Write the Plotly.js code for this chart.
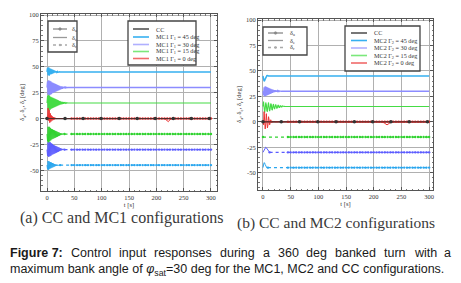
<!DOCTYPE html>
<html><head><meta charset="utf-8">
<script src="https://cdn.plot.ly/plotly-3.0.1.min.js"></script>
<style>html,body{margin:0;padding:0;background:#fff}#c{width:461px;height:283px}</style>
</head><body><div id="c"></div>
<script>
// ---------- DATA ----------
const tTrans = [0,1,2,3,4,5,6,7,8,9,10,11,12,13,14,15,16,17,18,19,20,21,22,23,24,25,26,27,28,29,30,31,32,33,34,35,36,37,38,39,40,41,42,43,44,45];
const tDots = [45,50,55,60,65,70,75,80,85,90,95,100,105,110,115,120,125,130,135,140,145,150,155,160,165,170,175,180,185,190,195,200,205,210,215,220,225,230,235,240,245,250,255,260,265,270,275,280,285,290,295,300];
const xTicks = [0,50,100,150,200,250,300];
const yTicks = [-50,-25,0,25,50,75,100];
const tEnd = 300;
const ccMarkT = [0,33,66,99,132,165,198,231,264,297];

// (a) MC1
const mc1_45p = [45,49,42,49.5,41.5,48.5,42.5,48,43,47.5,43.5,47,44,46.5,44.5,46,44.6,45.6,44.7,45.4,44.8,45.3,44.9,45.2,45];
const mc1_45n = [-45,-49,-41,-49.5,-41.5,-48.5,-42,-48,-42.5,-47.5,-43,-47,-43.5,-46.5,-44,-46,-44.3,-45.7,-44.5,-45.5,-44.7,-45.3,-44.8,-45.2,-45];
const mc1_30p = [30,36,23,37,22,36.5,23,36,23.5,35,24.5,34.5,25,34,25.5,33.5,26,33,26.5,32.5,27,32,27.5,31.5,28,31.2,28.5,31,28.8,30.8,29.2,30.6,29.4,30.4,29.6,30.3,29.8,30.2,30];
const mc1_30n = [-30,-36,-23,-37,-22.5,-36.5,-23,-36,-24,-35,-24.5,-34.5,-25.5,-34,-26,-33.5,-26.5,-33,-27,-32.5,-27.5,-32,-28,-31.5,-28.5,-31,-29,-30.7,-29.3,-30.4,-29.6,-30.2,-30];
const mc1_15p = [15,22,8,23,7,22,8.5,21,9.5,20.5,10,20,10.5,19.5,11,19,11.5,18.5,12,18,12.5,17.5,13,17,13.5,16.5,13.8,16.2,14,16,14.3,15.7,14.5,15.5,14.7,15.3,14.8,15.2,15];
const mc1_15n = [-15,-22,-8,-23,-8,-22,-9,-21,-10,-20,-10.5,-19.5,-11,-19,-11.5,-18.5,-12,-18,-12.5,-17.5,-13,-17,-13.5,-16.5,-14,-16,-14.3,-15.7,-14.5,-15.5,-14.7,-15.3,-15];
const mc1_0 = [0,1,10,-2,8,-4,5,-3,3,-2,2,-1.5,1.5,-1,1,-0.5,0.5,0];
const mc1_0_blipT = [215,219,222,225,229];
const mc1_0_blipV = [0,-1.5,-3,-1,0];

// (b) MC2
const mc2_45p = [45,43,40,40.5,42,43.5,44.5,45.3,45.5,45.2,45];
const mc2_45n = [-45,-43,-40,-40.5,-42,-43.5,-44.5,-45.3,-45.2,-45];
const mc2_30p = [30,26,34,25,35,25.5,34.5,26,34,26.5,33.5,27,33,27.5,32.5,28,32,28.5,31.5,29,31.2,29.2,31,29.4,30.8,29.6,30.6,29.7,30.4,29.8,30.3,29.9,30.2,30];
const mc2_30n = [-30,-29,-27,-25.5,-25,-25,-25.5,-26.5,-27.5,-28.5,-29.3,-29.8,-30];
const mc2_15p = [15,20,14,9,13,19,17,11,10,16,19,14,10.5,13,18,17,12,11.5,16,17.5,14,12.5,15,17,15.5,13,14,16.5,16,14,14,15.8,15.8,14.5,14.5,15.5,15.3,14.7,15,15.2,15];
const mc2_15n = [-15];
const mc2_0 = [0,-3,10,2,-7,-2,8,1,-6,-3,5,2,-3,-1,2,0.5,-1,0,0.5,0];
const mc2_0_blipT = [215,220,224,228,233];
const mc2_0_blipV = [0,-1.5,-3,-1.5,0];

const legLabelsMC1 = ['CC','MC1 Γ<sub>1</sub> = 45 deg','MC1 Γ<sub>1</sub> = 30 deg','MC1 Γ<sub>1</sub> = 15 deg','MC1 Γ<sub>1</sub> = 0 deg'];
const legLabelsMC2 = ['CC','MC2 Γ<sub>2</sub> = 45 deg','MC2 Γ<sub>2</sub> = 30 deg','MC2 Γ<sub>2</sub> = 15 deg','MC2 Γ<sub>2</sub> = 0 deg'];
const inputLabels = ['δ<sub>a</sub>','δ<sub>e</sub>','δ<sub>r</sub>'];

// ---------- STYLE ----------
const C = {cc:'#2a2a2a', c45:'#36b0f0', c30:'#8c8cff', c15:'#45dc45', c0:'#ec3434'};
const CN = {c45:'#2aa6ee', c30:'#5c5cff', c15:'#2fd22f'};
const W = 461, H = 283;
const PX = x => x / W, PY = y => 1 - y / H;
const serif = 'Liberation Serif, Times New Roman, serif';
const sans = 'Liberation Sans, Arial, sans-serif';

// transient part (solid) of a series
function transient(vals){
  return {x: tTrans.slice(0, vals.length), y: vals.slice()};
}
// settled part drawn dotted with small markers
function settled(vals){
  const t0 = tTrans[vals.length-1], last = vals[vals.length-1];
  const x = [t0].concat(tDots.filter(t => t > t0));
  return {x, y: x.map(()=>last), dots:true};
}
function full(vals, tailT, tailV){
  const s = transient(vals);
  const last = vals[vals.length-1];
  if (tailT){ tailT.forEach((t,i)=>{s.x.push(t); s.y.push(tailV[i]);}); }
  s.x.push(tEnd); s.y.push(tailV ? tailV[tailV.length-1] : last);
  return s;
}
function tr(s, color, dash, ax, width){
  const o = {x:s.x, y:s.y, mode: s.dots ? 'lines+markers' : 'lines', type:'scatter', xaxis:'x'+ax, yaxis:'y'+ax,
    line:{color, width: width||1, dash: dash||'solid'}, hoverinfo:'skip', showlegend:false};
  if (s.dots) o.marker = {size:2.4, color, line:{width:0}};
  return o;
}
function build(ax, d){
  const out = [];
  out.push(tr({x:[0,tEnd], y:[0,0]}, C.cc, 'solid', ax, 1.3));
  out.push(tr(full(d.p45), C.c45, 'solid', ax, 1.5));
  if (d.n45.length > 1) out.push(tr(transient(d.n45), CN.c45, 'solid', ax, 1));
  out.push(tr(settled(d.n45), CN.c45, 'dot', ax, 1.2));
  out.push(tr(full(d.p30), C.c30, 'solid', ax, 1.3));
  if (d.n30.length > 1) out.push(tr(transient(d.n30), CN.c30, 'solid', ax, 1));
  out.push(tr(settled(d.n30), CN.c30, 'dot', ax, 1.2));
  out.push(tr(full(d.p15), C.c15, 'solid', ax, 1.1));
  if (d.n15.length > 1) out.push(tr(transient(d.n15), CN.c15, 'solid', ax, 1));
  out.push(tr(settled(d.n15), CN.c15, 'dot', ax, 1.2));
  out.push(tr(full(d.z, d.bt, d.bv), C.c0, 'solid', ax, 1));
  out.push(tr(settled([0]), C.c0, 'dot', ax, 1.1));
  out.push({x:ccMarkT, y:ccMarkT.map(()=>0), mode:'lines+markers', type:'scatter', xaxis:'x'+ax, yaxis:'y'+ax,
    line:{color:C.cc, width:0.8}, marker:{size:3.6, color:'#333'}, hoverinfo:'skip', showlegend:false});
  return out;
}
const data = [].concat(
  build('', {p45:mc1_45p,n45:mc1_45n,p30:mc1_30p,n30:mc1_30n,p15:mc1_15p,n15:mc1_15n,z:mc1_0,bt:mc1_0_blipT,bv:mc1_0_blipV}),
  build('2',{p45:mc2_45p,n45:mc2_45n,p30:mc2_30p,n30:mc2_30n,p15:mc2_15p,n15:mc2_15n,z:mc2_0,bt:mc2_0_blipT,bv:mc2_0_blipV})
);

function xa(domain, range){
  return {domain, range, tickvals:xTicks, ticktext:xTicks.map(String), showgrid:true, gridcolor:'#b0b0b0', gridwidth:1,
    zeroline:false, showline:true, mirror:'ticks', linecolor:'#555', linewidth:1, ticks:'inside', ticklen:3, tickcolor:'#555',
    minor:{ticks:'inside', ticklen:1.5, dtick:10, tickcolor:'#777', showgrid:false},
    tickfont:{family:serif, size:6.5, color:'#333'}, ticklabelstandoff:0,
    title:{text:'t [s]', font:{family:serif, size:6.5, color:'#333'}, standoff:1}};
}
function ya(domain, range){
  return {domain, range, tickvals:yTicks, ticktext:yTicks.map(String), showgrid:true, gridcolor:'#b0b0b0', gridwidth:1,
    zeroline:false, showline:true, mirror:'ticks', linecolor:'#555', linewidth:1, ticks:'inside', ticklen:3, tickcolor:'#555',
    minor:{ticks:'inside', ticklen:1.5, dtick:5, tickcolor:'#777', showgrid:false},
    tickfont:{family:serif, size:6.5, color:'#333'},
    title:{text:'δ<sub>a</sub>, δ<sub>e</sub>, δ<sub>r</sub> [deg]', font:{family:serif, size:6.5, color:'#333'}, standoff:3}};
}

const shapes = [], annotations = [];
function box(x0,y0,x1,y1){
  shapes.push({type:'rect', xref:'paper', yref:'paper', x0:PX(x0), x1:PX(x1), y0:PY(y1), y1:PY(y0),
    line:{color:'#444', width:1.3}, fillcolor:'#fff', layer:'above'});
}
function hline(x0,x1,y,color,dash,w){
  shapes.push({type:'line', xref:'paper', yref:'paper', x0:PX(x0), x1:PX(x1), y0:PY(y), y1:PY(y),
    line:{color, width:w||1.3, dash:dash||'solid'}, layer:'above'});
}
function dot(x,y,r,color){
  shapes.push({type:'circle', xref:'paper', yref:'paper', x0:PX(x-r), x1:PX(x+r), y0:PY(y+r), y1:PY(y-r),
    line:{color, width:0.6}, fillcolor:color, layer:'above'});
}
function label(x,y,text,size,font,color,anchor){
  annotations.push({xref:'paper', yref:'paper', x:PX(x), y:PY(y), text, showarrow:false,
    xanchor:anchor||'left', yanchor:'middle', font:{family:font||serif, size:size||6, color:color||'#333'}});
}
function inputLegend(x0,y0,x1,y1,rows,sx0,sx1,lx){
  box(x0,y0,x1,y1);
  hline(sx0,sx1,rows[0],'#888'); dot((sx0+sx1)/2,rows[0],1.3,'#888');
  hline(sx0,sx1,rows[1],'#999');
  hline(sx0,sx1,rows[2],'#aaa','dot'); dot((sx0+sx1)/2,rows[2],0.9,'#aaa');
  inputLabels.forEach((t,i)=>label(lx,rows[i],t,6.2));
}
function colorLegend(x0,y0,x1,y1,rows,sx0,sx1,lx,labels){
  box(x0,y0,x1,y1);
  const cols=['#555',C.c45,'#b0b0ff','#7be87b','#f06a6a'];
  cols.forEach((c,i)=>{hline(sx0,sx1,rows[i], c, 'solid', 1.6); label(lx,rows[i],labels[i],6.2);});
}
inputLegend(48,21,77,52,[29,37.5,45],53,67,70);
colorLegend(128,21,196,65,[29,37,44.5,51.5,58.5],133,149,154,legLabelsMC1);
inputLegend(263,27,307,55,[33,40.5,47.5],268,283,288);
colorLegend(345,26,420,71,[33,40.5,48,55.5,63],351,367,372,legLabelsMC2);

// subplot captions
label(122,218,'(a) CC and MC1 configurations',16,serif,'#3a3a3a','center');
label(336,223,'(b) CC and MC2 configurations',15.5,serif,'#3a3a3a','center');

// figure caption, line 1 justified
const capSize = 12.5;
const line1 = ['<b>Figure 7:</b>','Control','input','responses','during','a','360','deg','banked','turn','with','a'];
const cv = document.createElement('canvas').getContext('2d');
const widths = line1.map(w=>{
  const bold = w.startsWith('<b>');
  cv.font = (bold?'bold ':'') + capSize + 'px "Liberation Sans"';
  return cv.measureText(w.replace(/<[^>]+>/g,'')).width;
});
const L0 = 8, L1 = 449;
const gap = (L1 - L0 - widths.reduce((a,b)=>a+b,0)) / (line1.length-1);
let cx = L0;
line1.forEach((w,i)=>{ label(cx,253,w,capSize,sans,'#1a1a1a','left'); cx += widths[i] + gap; });
label(8,270,'maximum bank angle of <i>φ</i><sub>sat</sub>=30 deg for the MC1, MC2 and CC configurations.',capSize,sans,'#1a1a1a','left');

const layout = {
  width:W, height:H, margin:{l:0,r:0,t:0,b:0}, paper_bgcolor:'#fff', plot_bgcolor:'#fff', showlegend:false,
  xaxis: xa([PX(41),PX(217)], [-11,311]),
  yaxis: ya([PY(191),PY(14)], [-70,101]),
  xaxis2: xa([PX(258),PX(433)], [-9,307]),
  yaxis2: ya([PY(190),PY(19)], [-67,101]),
  shapes, annotations
};
layout.xaxis.anchor='y'; layout.yaxis.anchor='x';
layout.xaxis2.anchor='y2'; layout.yaxis2.anchor='x2';
Plotly.newPlot('c', data, layout, {staticPlot:true, displayModeBar:false});
</script></body></html>
